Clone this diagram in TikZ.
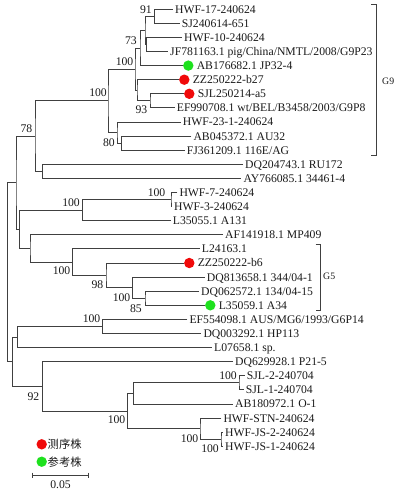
\documentclass[tikz,border=0pt]{standalone}
\usepackage{fontspec}
\setmainfont{Liberation Serif}
\newfontfamily\cjkfont{Noto Sans CJK SC}
\usetikzlibrary{calc}
\newcommand\lffont{\fontsize{11.7}{13}\selectfont}
\newcommand\grpfont{\fontsize{9.8}{11}\selectfont}
\definecolor{dotred}{RGB}{240,10,10}
\definecolor{dotgreen}{RGB}{30,225,30}
\tikzset{
  br/.style={draw=black!75, line width=0.9pt},
  lf/.style={anchor=base west, inner sep=0pt, yshift=-3.9pt, font=\lffont, text=black!90},
  bs/.style={anchor=east, inner sep=0pt, font=\lffont, text=black!90},
  grp/.style={anchor=west, inner sep=0pt, font=\grpfont, text=black!90},
  dot/.style={circle, minimum size=10.4pt, inner sep=0pt, draw=none},
}
\newcommand\mkleaf[4]{\coordinate (#1) at (#2,#3); \node[lf] (#1t) at ({#2+2},#3) {#4};}
\newcommand\mkdot[5]{\coordinate (#1) at ({#2-5},#3); \node[dot, fill=#4] (#1c) at (#2,#3) {}; \node[lf] (#1t) at ({#2+8.3},#3) {#5};}
\begin{document}
\begin{tikzpicture}[x=1pt, y=-1pt]
\useasboundingbox (0,0) rectangle (400,493);
% leaves
\mkleaf{L0}{173}{9.2}{HWF-17-240624}
\mkleaf{L1}{179.7}{23.3}{SJ240614-651}
\mkleaf{L2}{182}{37.4}{HWF-10-240624}
\mkleaf{L3}{168}{51.5}{JF781163.1 pig/China/NMTL/2008/G9P23}
\mkdot{L4}{188.3}{65.6}{dotgreen}{AB176682.1 JP32-4}
\mkdot{L5}{184.3}{79.7}{dotred}{ZZ250222-b27}
\mkdot{L6}{189.3}{93.8}{dotred}{SJL250214-a5}
\mkleaf{L7}{174.7}{107.9}{EF990708.1 wt/BEL/B3458/2003/G9P8}
\mkleaf{L8}{180.7}{122.0}{HWF-23-1-240624}
\mkleaf{L9}{191.3}{136.1}{AB045372.1 AU32}
\mkleaf{L10}{184.7}{150.2}{FJ361209.1 116E/AG}
\mkleaf{L11}{243}{164.3}{DQ204743.1 RU172}
\mkleaf{L12}{241.3}{178.4}{AY766085.1 34461-4}
\mkleaf{L13}{177.3}{192.5}{HWF-7-240624}
\mkleaf{L14}{172}{206.6}{HWF-3-240624}
\mkleaf{L15}{170.7}{220.7}{L35055.1 A131}
\mkleaf{L16}{223}{234.8}{AF141918.1 MP409}
\mkleaf{L17}{199.7}{248.9}{L24163.1}
\mkdot{L18}{189.3}{263.0}{dotred}{ZZ250222-b6}
\mkleaf{L19}{204.7}{277.1}{DQ813658.1 344/04-1}
\mkleaf{L20}{199}{291.2}{DQ062572.1 134/04-15}
\mkdot{L21}{210.3}{305.3}{dotgreen}{L35059.1 A34}
\mkleaf{L22}{187.3}{319.4}{EF554098.1 AUS/MG6/1993/G6P14}
\mkleaf{L23}{201.3}{333.5}{DQ003292.1 HP113}
\mkleaf{L24}{212}{347.6}{L07658.1 sp.}
\mkleaf{L25}{233}{361.7}{DQ629928.1 P21-5}
\mkleaf{L26}{244.7}{375.8}{SJL-2-240704}
\mkleaf{L27}{243.7}{389.9}{SJL-1-240704}
\mkleaf{L28}{233}{404.0}{AB180972.1 O-1}
\mkleaf{L29}{221.3}{418.1}{HWF-STN-240624}
\mkleaf{L30}{223}{432.2}{HWF-JS-2-240624}
\mkleaf{L31}{223}{446.3}{HWF-JS-1-240624}
% internal nodes
\coordinate (A) at (154.5,16.25);
\coordinate (C) at (146.5,44.45);
\coordinate (B) at (145,30.35);
\coordinate (D) at (140,47.975);
\coordinate (F) at (150,100.85);
\coordinate (E) at (137,90.275);
\coordinate (K) at (135,69.125);
\coordinate (I) at (121.7,143.15);
\coordinate (H) at (117,132.575);
\coordinate (G) at (108,100.85);
\coordinate (L) at (42.3,171.35);
\coordinate (J) at (35,136.1);
\coordinate (P) at (171,199.55);
\coordinate (O) at (82.7,210.125);
\coordinate (U) at (145,298.25);
\coordinate (T) at (132.7,287.675);
\coordinate (S) at (106,275.34);
\coordinate (R) at (72.7,262.12);
\coordinate (Q) at (30,248.46);
\coordinate (N) at (19.3,229.29);
\coordinate (M) at (16,182.70);
\coordinate (Y) at (102.7,326.45);
\coordinate (W) at (17.3,337.03);
\coordinate (CC) at (239,382.85);
\coordinate (AA) at (133.3,393.43);
\coordinate (DD) at (221,439.25);
\coordinate (BB) at (200,428.68);
\coordinate (Z) at (127.7,411.05);
\coordinate (X) at (42.3,386.38);
\coordinate (V) at (12.7,361.7);
\coordinate (Rt) at (7.3,272.2);
% branches
\draw[br] (L0) -| (A) |- (L1);
\draw[br] (L2) -| (C) |- (L3);
\draw[br] (A) -| (B) |- (C);
\draw[br] (B) -| (D) |- (L4);
\draw[br] (L6) -| (F) |- (L7);
\draw[br] (L5) -| (E) |- (F);
\draw[br] (D) -| (K) |- (E);
\draw[br] (L9) -| (I) |- (L10);
\draw[br] (L8) -| (H) |- (I);
\draw[br] (K) -| (G) |- (H);
\draw[br] (L11) -| (L) |- (L12);
\draw[br] (G) -| (J) |- (L);
\draw[br] (L13) -| (P) |- (L14);
\draw[br] (P) -| (O) |- (L15);
\draw[br] (L20) -| (U) |- (L21);
\draw[br] (L19) -| (T) |- (U);
\draw[br] (L18) -| (S) |- (T);
\draw[br] (L17) -| (R) |- (S);
\draw[br] (L16) -| (Q) |- (R);
\draw[br] (O) -| (N) |- (Q);
\draw[br] (J) -| (M) |- (N);
\draw[br] (L22) -| (Y) |- (L23);
\draw[br] (Y) -| (W) |- (L24);
\draw[br] (L26) -| (CC) |- (L27);
\draw[br] (CC) -| (AA) |- (L28);
\draw[br] (L30) -| (DD) |- (L31);
\draw[br] (L29) -| (BB) |- (DD);
\draw[br] (AA) -| (Z) |- (BB);
\draw[br] (L25) -| (X) |- (Z);
\draw[br] (W) -| (V) |- (X);
\draw[br] (M) -| (Rt) |- (V);
% bootstrap values
\node[bs] (bA) at (152,9.5) {91};
\node[bs] (bC) at (137,40.5) {73};
\node[bs] (bK) at (133.5,62) {100};
\node[bs] (bF) at (147.5,110) {93};
\node[bs] (bG) at (107,93) {100};
\node[bs] (bI) at (115,142.5) {80};
\node[bs] (bJ) at (32.5,128.5) {78};
\node[bs] (bP) at (165.5,192.5) {100};
\node[bs] (bO) at (80,202.7) {100};
\node[bs] (bR) at (70.5,271) {100};
\node[bs] (bS) at (103.5,285) {98};
\node[bs] (bT) at (130.5,297.3) {100};
\node[bs] (bU) at (142,308.5) {85};
\node[bs] (bY) at (100.5,319) {100};
\node[bs] (bX) at (39.5,396.7) {92};
\node[bs] (bZ) at (125.5,420) {100};
\node[bs] (bCC) at (237,376) {100};
\node[bs] (bBB) at (198.5,438.5) {100};
\node[bs] (bDD) at (219,449) {100};
% group brackets
\coordinate (g9a) at (371,4);
\coordinate (g9b) at (376.7,4);
\coordinate (g9c) at (376.7,155);
\coordinate (g9d) at (371,155);
\draw[br] (g9a) -- (g9b) -- (g9c) -- (g9d);
\node[grp] (g9) at (382,81) {G9};
\coordinate (g5a) at (315.7,244);
\coordinate (g5b) at (320,244);
\coordinate (g5c) at (320,310.7);
\coordinate (g5d) at (315.7,310.7);
\draw[br] (g5a) -- (g5b) -- (g5c) -- (g5d);
\node[grp] (g5) at (323,276.7) {G5};
% legend
\node[dot, fill=dotred] (lgr) at (41.7,444.3) {};
\node[anchor=west, inner sep=0pt, font=\cjkfont\fontsize{11.3}{13}\selectfont, text=black!90] (lgrt) at (47.5,444.3) {测序株};
\node[dot, fill=dotgreen] (lgg) at (41.7,461.7) {};
\node[anchor=west, inner sep=0pt, font=\cjkfont\fontsize{11.3}{13}\selectfont, text=black!90] (lggt) at (47.5,461.7) {参考株};
% scale bar
\coordinate (sb1) at (32.7,475);
\coordinate (sb2) at (88.3,475);
\draw[br] (sb1) -- (sb2);
\draw[br] ($(sb1)+(0,-2.5)$) -- ($(sb1)+(0,2.5)$);
\draw[br] ($(sb2)+(0,-2.5)$) -- ($(sb2)+(0,2.5)$);
\node[anchor=center, inner sep=0pt, font=\lffont, text=black!90] (sbt) at (60.5,484.5) {0.05};
\end{tikzpicture}
\end{document}
